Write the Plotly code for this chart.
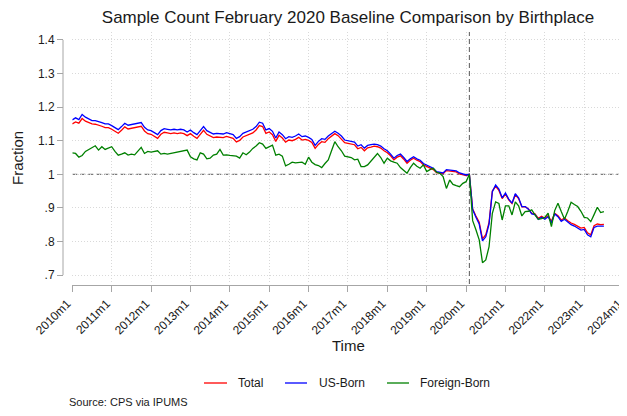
import plotly.graph_objects as go

# ---------------- data ----------------
start_year = 2010
n_months = 163  # 2010m1 .. 2023m7
month_labels = [f"{start_year + i // 12}m{i % 12 + 1}" for i in range(n_months)]
month_index = list(range(n_months))

total = [
    1.150, 1.156, 1.152, 1.166, 1.158, 1.154, 1.150, 1.149, 1.147, 1.143, 1.139, 1.139,
    1.134, 1.129, 1.122, 1.131, 1.141, 1.135, 1.137, 1.139, 1.141, 1.143, 1.129, 1.121,
    1.119, 1.113, 1.107, 1.119, 1.125, 1.123, 1.121, 1.123, 1.121, 1.123, 1.121, 1.115,
    1.121, 1.113, 1.107, 1.119, 1.131, 1.119, 1.113, 1.109, 1.111, 1.111, 1.109, 1.113,
    1.111, 1.107, 1.096, 1.101, 1.111, 1.115, 1.119, 1.123, 1.132, 1.145, 1.142, 1.122,
    1.126, 1.118, 1.098, 1.116, 1.108, 1.096, 1.102, 1.100, 1.104, 1.110, 1.102, 1.104,
    1.101, 1.095, 1.077, 1.089, 1.097, 1.095, 1.106, 1.115, 1.121, 1.115, 1.106, 1.094,
    1.092, 1.090, 1.088, 1.076, 1.080, 1.070, 1.079, 1.081, 1.084, 1.082, 1.078, 1.070,
    1.064, 1.055, 1.043, 1.051, 1.055, 1.045, 1.033, 1.042, 1.048, 1.042, 1.038, 1.028,
    1.024, 1.018, 1.014, 1.005, 1.003, 1.002, 1.011, 1.009, 1.009, 1.007, 1.001, 0.999,
    0.996, 1.000, 0.897, 0.876, 0.857, 0.808, 0.820, 0.857, 0.950, 0.964, 0.952, 0.928,
    0.941, 0.924, 0.913, 0.939, 0.928, 0.903, 0.904, 0.897, 0.884, 0.882, 0.869, 0.875,
    0.869, 0.877, 0.860, 0.884, 0.877, 0.864, 0.870, 0.862, 0.855, 0.851, 0.846, 0.840,
    0.842, 0.826, 0.820, 0.847, 0.852, 0.850, 0.851,
]

us_born = [
    1.162, 1.168, 1.163, 1.178, 1.170, 1.165, 1.160, 1.160, 1.158, 1.154, 1.150, 1.150,
    1.145, 1.140, 1.133, 1.142, 1.152, 1.146, 1.148, 1.150, 1.152, 1.154, 1.140, 1.132,
    1.130, 1.124, 1.118, 1.130, 1.136, 1.134, 1.132, 1.134, 1.132, 1.134, 1.132, 1.126,
    1.132, 1.124, 1.118, 1.130, 1.142, 1.130, 1.124, 1.120, 1.122, 1.122, 1.120, 1.124,
    1.122, 1.118, 1.107, 1.112, 1.122, 1.126, 1.130, 1.134, 1.142, 1.155, 1.152, 1.132,
    1.136, 1.128, 1.108, 1.126, 1.118, 1.106, 1.112, 1.110, 1.114, 1.120, 1.112, 1.114,
    1.110, 1.104, 1.086, 1.098, 1.106, 1.104, 1.114, 1.122, 1.128, 1.122, 1.114, 1.102,
    1.100, 1.098, 1.096, 1.084, 1.088, 1.078, 1.086, 1.088, 1.090, 1.088, 1.084, 1.076,
    1.070, 1.060, 1.048, 1.056, 1.060, 1.050, 1.038, 1.046, 1.052, 1.046, 1.042, 1.032,
    1.028, 1.022, 1.018, 1.008, 1.006, 1.004, 1.014, 1.012, 1.012, 1.010, 1.004, 1.002,
    0.998, 1.000, 0.895, 0.872, 0.852, 0.802, 0.814, 0.852, 0.948, 0.968, 0.956, 0.930,
    0.944, 0.926, 0.914, 0.942, 0.930, 0.904, 0.904, 0.896, 0.882, 0.880, 0.866, 0.872,
    0.866, 0.874, 0.856, 0.882, 0.874, 0.860, 0.866, 0.858, 0.850, 0.846, 0.840, 0.834,
    0.836, 0.820, 0.814, 0.842, 0.846, 0.845, 0.846,
]

foreign_born = [
    1.064, 1.062, 1.051, 1.056, 1.068, 1.074, 1.078, 1.085, 1.072, 1.082, 1.074, 1.078,
    1.082, 1.068, 1.057, 1.060, 1.064, 1.057, 1.060, 1.058, 1.068, 1.080, 1.062, 1.068,
    1.066, 1.068, 1.070, 1.060, 1.062, 1.060, 1.062, 1.064, 1.066, 1.068, 1.070, 1.072,
    1.052, 1.046, 1.043, 1.064, 1.060, 1.046, 1.048, 1.057, 1.060, 1.074, 1.057, 1.058,
    1.056, 1.055, 1.054, 1.048, 1.064, 1.058, 1.066, 1.077, 1.084, 1.094, 1.090, 1.077,
    1.082, 1.087, 1.057, 1.060, 1.054, 1.025, 1.030, 1.036, 1.034, 1.034, 1.036, 1.030,
    1.051, 1.036, 1.029, 1.026, 1.020, 1.032, 1.043, 1.070, 1.097, 1.082, 1.070, 1.054,
    1.052, 1.050, 1.043, 1.045, 1.023, 1.023, 1.028, 1.040, 1.052, 1.062, 1.050, 1.033,
    1.048, 1.040, 1.036, 1.033, 1.020, 1.010, 1.003, 1.020, 1.033, 1.024, 1.018, 1.028,
    1.008, 1.014, 1.018, 1.006, 1.003, 0.993, 0.958, 0.983, 0.970, 0.966, 0.963, 0.973,
    0.978, 1.000, 0.862, 0.835, 0.805, 0.737, 0.745, 0.785, 0.884, 0.918, 0.913, 0.864,
    0.906, 0.906, 0.879, 0.918, 0.906, 0.876, 0.889, 0.890, 0.894, 0.879, 0.866, 0.868,
    0.872, 0.884, 0.844, 0.892, 0.914, 0.889, 0.866, 0.890, 0.917, 0.910, 0.904, 0.890,
    0.872, 0.870, 0.859, 0.880, 0.902, 0.886, 0.889,
]

x_tick_labels = [f"{y}m1" for y in range(2010, 2025)]
x_tick_vals = [12 * i for i in range(len(x_tick_labels))]
y_tick_vals = [0.7, 0.8, 0.9, 1.0, 1.1, 1.2, 1.3, 1.4]
y_tick_labels = [".7", ".8", ".9", "1", "1.1", "1.2", "1.3", "1.4"]
baseline_month = 121  # 2020m2

series = [
    ("Total", total, "#ff0000"),
    ("US-Born", us_born, "#0000ff"),
    ("Foreign-Born", foreign_born, "#008000"),
]

# ---------------- figure ----------------
W, H = 627, 416
OFF = 8  # page body margin offset
FONT = "Liberation Sans, Arial, Helvetica, sans-serif"
TXT = "#1a1a1a"
AX = "#a6a6a6"


def px(x):
    return (x - OFF) / W


def py(y):
    return 1 - (y - OFF) / H


fig = go.Figure()
for name, vals, color in series:
    fig.add_trace(go.Scatter(
        x=month_index, y=vals, mode="lines", name=name,
        line=dict(color=color, width=1.3), showlegend=False,
        text=month_labels, hovertemplate="%{text}: %{y:.3f}<extra>" + name + "</extra>",
    ))

fig.update_layout(
    width=W, height=H,
    margin=dict(l=0, r=0, t=0, b=0),
    paper_bgcolor="white", plot_bgcolor="white",
    font=dict(family=FONT, size=12, color=TXT),
    title=dict(text="Sample Count February 2020 Baseline Comparison by Birthplace",
               x=px(348), xanchor="center", y=py(17), yanchor="middle",
               font=dict(size=17, color=TXT, family=FONT)),
    xaxis=dict(
        domain=[px(72.3), px(623.6)], range=[0, 168],
        anchor="free", position=py(285),
        tickvals=x_tick_vals, ticktext=x_tick_labels, tickangle=-45,
        ticks="outside", ticklen=6, tickcolor=AX, tickwidth=1,
        ticklabeloverflow="allow", ticklabelshift=-5,
        showline=True, linecolor=AX, linewidth=1,
        showgrid=True, gridcolor="#d9d9d9", griddash="1px,2px", gridwidth=1,
        zeroline=False, automargin=False,
        tickfont=dict(size=12, color=TXT, family=FONT),
    ),
    yaxis=dict(
        domain=[py(284), py(32)], range=[0.6735, 1.4235],
        anchor="free", position=px(63),
        tickvals=y_tick_vals, ticktext=y_tick_labels,
        ticks="outside", ticklen=6, tickcolor=AX, tickwidth=1,
        showline=False,
        showgrid=True, gridcolor="#d9d9d9", griddash="1px,2px", gridwidth=1,
        zeroline=False, automargin=False,
        tickfont=dict(size=12, color=TXT, family=FONT),
    ),
)

# y axis line spanning the tick range (offset from plot region)
fig.add_shape(type="line", xref="paper", yref="y", x0=px(63), x1=px(63),
              y0=0.7, y1=1.4, line=dict(color=AX, width=1), layer="above")

# reference lines
fig.add_shape(type="line", xref="x", yref="y", x0=0, x1=168, y0=1, y1=1,
              line=dict(color="#5a5a5a", width=1, dash="5px,3px"), layer="below")
fig.add_shape(type="line", xref="x", yref="paper", x0=baseline_month, x1=baseline_month,
              y0=py(284), y1=py(32),
              line=dict(color="#5a5a5a", width=1, dash="5px,3px"), layer="below")

# axis titles
fig.add_annotation(text="Fraction", xref="paper", yref="paper", x=px(17), y=py(158),
                   textangle=-90, showarrow=False, xanchor="center", yanchor="middle",
                   font=dict(size=15, color=TXT, family=FONT))
fig.add_annotation(text="Time", xref="paper", yref="paper", x=px(348), y=py(345),
                   showarrow=False, xanchor="center", yanchor="middle",
                   font=dict(size=15, color=TXT, family=FONT))

# legend (drawn manually to match the Stata layout)
legend_y = py(383)
legend_pos = [(204, 227, 236), (285, 307, 317), (387, 409, 418)]
for (name, _, color), (lx0, lx1, tx) in zip(series, legend_pos):
    fig.add_shape(type="line", xref="paper", yref="paper", x0=px(lx0), x1=px(lx1),
                  y0=legend_y, y1=legend_y, line=dict(color=color, width=1.3))
    fig.add_annotation(text=name, xref="paper", yref="paper", x=px(tx), y=legend_y,
                       showarrow=False, xanchor="left", yanchor="middle",
                       font=dict(size=12, color=TXT, family=FONT))

# note
fig.add_annotation(text="Source: CPS via IPUMS", xref="paper", yref="paper",
                   x=px(67), y=py(402), showarrow=False, xanchor="left", yanchor="middle",
                   font=dict(size=11, color=TXT, family=FONT))

fig.write_html("out.html")
